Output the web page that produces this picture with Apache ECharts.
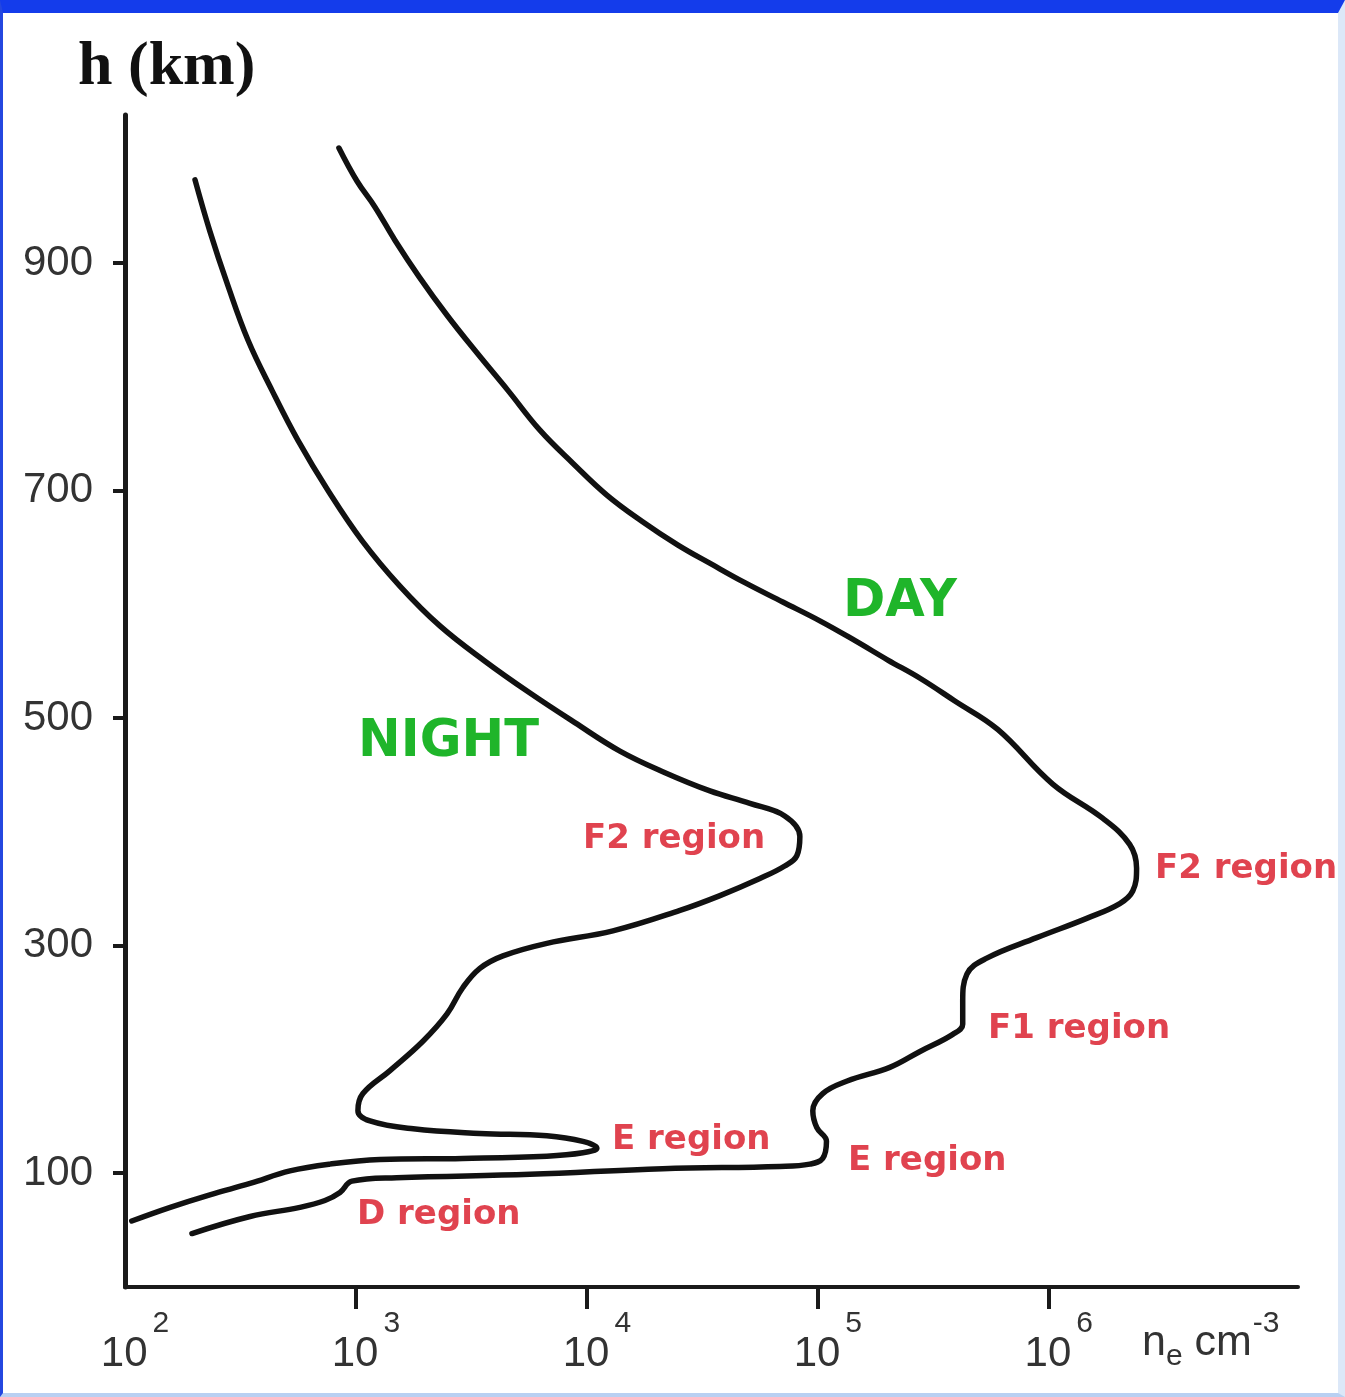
<!DOCTYPE html>
<html>
<head>
<meta charset="utf-8">
<script src="https://cdn.jsdelivr.net/npm/echarts@6/dist/echarts.min.js"></script>
<style>
  html, body { margin: 0; padding: 0; background: #ffffff; }
  #chart { position: absolute; left: 0; top: 0; width: 1345px; height: 1397px; }
  #frame { position: absolute; left: 0; top: 0; width: 1345px; height: 1397px; box-sizing: border-box;
           border-top: 13px solid #143ceb; border-left: 3px solid #2447e0;
           border-right: 7px solid #dce8f8; border-bottom: 4px solid #b9d0f2; pointer-events: none; }
</style>
</head>
<body>
<div id="chart"></div>
<div id="frame"></div>
<script>
// ---- data (electron density n_e in cm^-3, height h in km) ----
const xTickValues = [100, 1000, 10000, 100000, 1000000];
const xTickMarks = [1000, 10000, 100000, 1000000];
const yTickValues = [100, 300, 500, 700, 900];

const nightDensity = [201, 233, 279, 341, 433, 561, 757, 1062, 1550, 2310, 3620, 5670, 8870, 13900, 21800, 34100, 50800, 71900, 83600, 81100, 71900, 56100, 37700, 25300, 12960, 6710, 4330, 3440, 2900, 2480, 1950, 1400, 1072, 1020, 1150, 1770, 3440, 6710, 9610, 11050, 9610, 6710, 2900, 1270, 771, 518, 348, 233, 157, 107];
const nightHeight  = [973, 928, 880, 832, 788, 744, 700, 656, 616, 581, 550, 522, 496, 471, 452, 436, 425, 414, 396, 379, 370, 359, 344, 331, 313, 302, 291, 280, 263, 240, 216, 190, 170, 155, 146, 139, 135, 133, 128, 122, 118, 115, 113, 112, 108, 102, 91, 81, 70, 58];

const dayDensity = [844, 1010, 1210, 1475, 1875, 2480, 3340, 4550, 6260, 8690, 12200, 17300, 24800, 34800, 48300, 70500, 103000, 145000, 201000, 277000, 392000, 601000, 1040000, 1710000, 2240000, 2400000, 2310000, 2030000, 1460000, 887000, 539000, 442000, 424000, 424000, 384000, 277000, 205000, 134000, 105000, 95100, 99000, 109000, 105000, 92300, 68500, 21300, 5670, 1500, 961, 853, 734, 572, 348, 195];
const dayHeight  = [1001, 972, 949, 920, 888, 854, 821, 788, 753, 724, 696, 673, 652, 635, 619, 602, 585, 568, 551, 535, 515, 490, 442, 412, 389, 368, 348, 337, 324, 307, 289, 275, 251, 231, 222, 207, 193, 181, 170, 155, 140, 128, 113, 108, 106, 104, 99, 96, 93, 83, 76, 70, 62, 47];

const greenLabels = [
  { text: 'DAY', left: 843, top: 577 },
  { text: 'NIGHT', left: 358, top: 717 }
];
const redLabels = [
  { text: 'F2 region', left: 583, top: 822 },
  { text: 'F2 region', left: 1155, top: 852 },
  { text: 'F1 region', left: 988, top: 1012 },
  { text: 'E region', left: 612, top: 1123 },
  { text: 'E region', left: 848, top: 1144 },
  { text: 'D region', left: 357, top: 1198 }
];

const zip = (xs, ys) => xs.map((x, i) => [x, ys[i]]);
const supDigits = v => String(Math.round(Math.log10(v)));

const chart = echarts.init(document.getElementById('chart'), null, { renderer: 'canvas' });

const graphics = [];
greenLabels.forEach(l => graphics.push({
  type: 'text', left: l.left, top: l.top, z: 10,
  style: { text: l.text, fill: '#1fb52a', font: 'bold 51px "DejaVu Sans"' }
}));
redLabels.forEach(l => graphics.push({
  type: 'text', left: l.left, top: l.top, z: 10,
  style: { text: l.text, fill: '#e0434f', font: 'bold 34px "DejaVu Sans"' }
}));
graphics.push({
  type: 'text', left: 1142, top: 1309, z: 10,
  style: {
    text: '{n|n}{e|e}{c| cm}{s|-3}',
    rich: {
      n: { fontFamily: 'Liberation Sans', fontSize: 43, fill: '#333', padding: [0, 0, 7, 0], verticalAlign: 'bottom' },
      c: { fontFamily: 'Liberation Sans', fontSize: 43, fill: '#333', padding: [0, 0, 7, 0], verticalAlign: 'bottom' },
      e: { fontFamily: 'Liberation Sans', fontSize: 30, fill: '#333', verticalAlign: 'bottom' },
      s: { fontFamily: 'Liberation Sans', fontSize: 30, fill: '#333', padding: [0, 0, 33, 1], verticalAlign: 'top' }
    }
  }
});

const option = {
  animation: false,
  backgroundColor: '#ffffff',
  title: {
    text: 'h (km)', left: 78, top: 37, padding: 0,
    textStyle: { fontFamily: 'Liberation Serif', fontSize: 62, fontWeight: 'bold', color: '#111' }
  },
  grid: { left: 125, right: 47, top: 115, bottom: 110, containLabel: false, outerBoundsMode: 'none' },
  xAxis: {
    type: 'log', logBase: 10, min: 100, max: 12000000,
    axisLine: { show: true, lineStyle: { color: '#1a1a1a', width: 4 } },
    axisTick: { show: true, customValues: xTickMarks, length: 22, lineStyle: { color: '#1a1a1a', width: 4 } },
    minorTick: { show: false },
    splitLine: { show: false },
    axisLabel: {
      customValues: xTickValues, margin: 22,
      formatter: v => '{b|10}{s|' + supDigits(v) + '}',
      rich: {
        b: { fontFamily: 'Liberation Sans', fontSize: 42, color: '#333', padding: [0, 0, 0, 20], verticalAlign: 'bottom' },
        s: { fontFamily: 'Liberation Sans', fontSize: 30, color: '#333', padding: [0, 0, 36, 5], verticalAlign: 'top' }
      }
    }
  },
  yAxis: {
    type: 'value', min: 0, max: 1030,
    axisLine: { show: true, lineStyle: { color: '#1a1a1a', width: 5 } },
    axisTick: { show: true, customValues: yTickValues, length: 12, lineStyle: { color: '#1a1a1a', width: 4 } },
    splitLine: { show: false },
    axisLabel: { customValues: yTickValues, margin: 32, fontFamily: 'Liberation Sans', fontSize: 42, color: '#333' }
  },
  series: [
    { name: 'NIGHT', type: 'line', data: zip(nightDensity, nightHeight), showSymbol: false, symbol: 'none', smooth: 0.4,
      lineStyle: { color: '#111', width: 5.5, cap: 'round', join: 'round' } },
    { name: 'DAY', type: 'line', data: zip(dayDensity, dayHeight), showSymbol: false, symbol: 'none', smooth: 0.4,
      lineStyle: { color: '#111', width: 5.5, cap: 'round', join: 'round' } }
  ],
  graphic: graphics
};
chart.setOption(option);
</script>
</body>
</html>
